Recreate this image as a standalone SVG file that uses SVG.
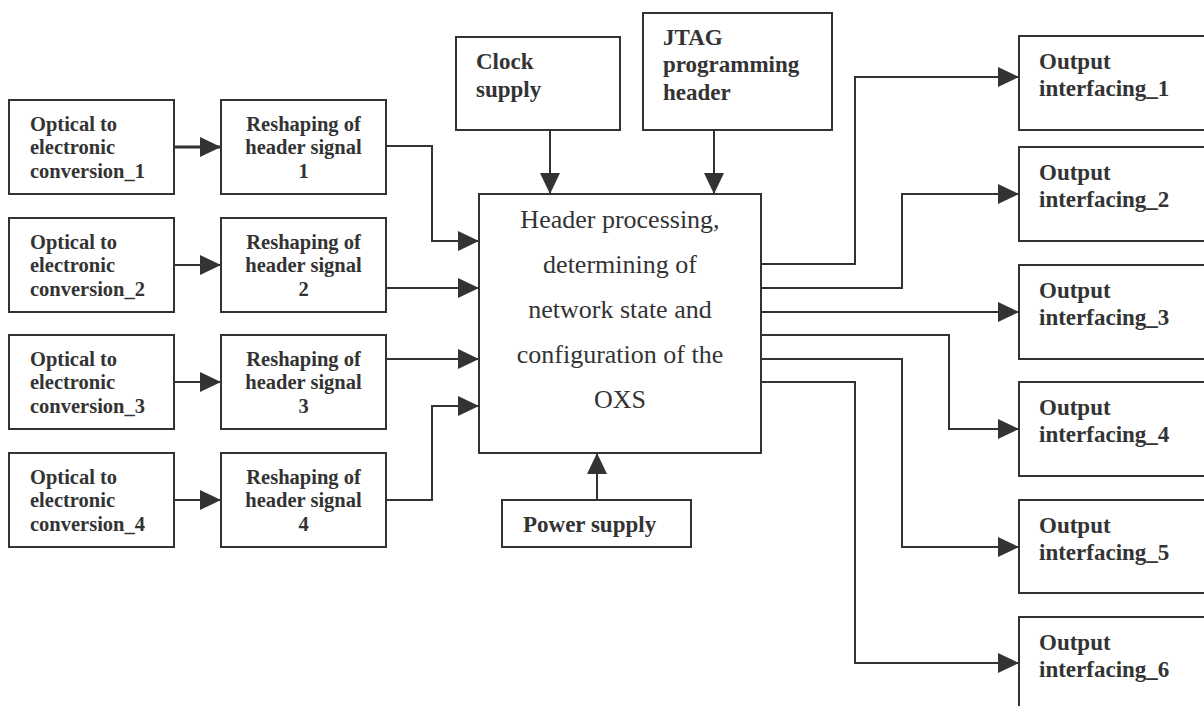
<svg xmlns="http://www.w3.org/2000/svg" width="1204" height="706" viewBox="0 0 1204 706">
<style>
.box{fill:#fff;stroke:#333;stroke-width:2}
.lbl{font-family:"Liberation Serif","Times New Roman",serif;font-weight:bold;fill:#333}
.s20{font-size:20.5px}
.s23{font-size:23px}
.main{font-family:"Liberation Serif","Times New Roman",serif;font-size:26px;fill:#333;text-anchor:middle}
.mid{text-anchor:middle}
.con{fill:none;stroke:#333;stroke-width:2;marker-end:url(#ah)}
</style>
<defs>
<marker id="ah" markerUnits="userSpaceOnUse" markerWidth="22" markerHeight="22" refX="21" refY="10" orient="auto">
<path d="M0,0 L21,10 L0,20 z" fill="#333"/>
</marker>
</defs>
<rect width="1204" height="706" fill="#fff"/>

<g id="connectors">
<path class="con" d="M174,147 H221" style="stroke-width:3"/>
<path class="con" d="M174,265 H221"/>
<path class="con" d="M174,382 H221"/>
<path class="con" d="M174,500 H221"/>
<path class="con" d="M386,146 H432 V241 H479"/>
<path class="con" d="M386,288 H479"/>
<path class="con" d="M386,359 H479"/>
<path class="con" d="M386,500 H432 V406 H479"/>
<path class="con" d="M550,124 V194"/>
<path class="con" d="M714,124 V194"/>
<path class="con" d="M597,500 V453"/>
<path class="con" d="M761,264 H855 V77 H1019"/>
<path class="con" d="M761,288 H902 V194 H1019"/>
<path class="con" d="M761,312 H1019"/>
<path class="con" d="M761,335 H949 V429 H1019"/>
<path class="con" d="M761,359 H902 V547 H1019"/>
<path class="con" d="M761,382 H855 V663 H1019"/>
</g>

<g id="oe1"><rect class="box" x="9" y="100" width="165" height="94"/>
<text class="lbl s20" x="30"><tspan x="30" y="130.5">Optical to</tspan><tspan x="30" y="154.3">electronic</tspan><tspan x="30" y="178.3">conversion_1</tspan></text></g>
<g id="oe2"><rect class="box" x="9" y="218" width="165" height="94"/>
<text class="lbl s20" x="30"><tspan x="30" y="248.5">Optical to</tspan><tspan x="30" y="272.3">electronic</tspan><tspan x="30" y="296.3">conversion_2</tspan></text></g>
<g id="oe3"><rect class="box" x="9" y="335" width="165" height="94"/>
<text class="lbl s20" x="30"><tspan x="30" y="365.5">Optical to</tspan><tspan x="30" y="389.3">electronic</tspan><tspan x="30" y="413.3">conversion_3</tspan></text></g>
<g id="oe4"><rect class="box" x="9" y="453" width="165" height="94"/>
<text class="lbl s20" x="30"><tspan x="30" y="483.5">Optical to</tspan><tspan x="30" y="507.3">electronic</tspan><tspan x="30" y="531.3">conversion_4</tspan></text></g>

<g id="rs1"><rect class="box" x="221" y="100" width="165" height="94"/>
<text class="lbl s20 mid"><tspan x="303.5" y="130.5">Reshaping of</tspan><tspan x="303.5" y="154.3">header signal</tspan><tspan x="303.5" y="178.3">1</tspan></text></g>
<g id="rs2"><rect class="box" x="221" y="218" width="165" height="94"/>
<text class="lbl s20 mid"><tspan x="303.5" y="248.5">Reshaping of</tspan><tspan x="303.5" y="272.3">header signal</tspan><tspan x="303.5" y="296.3">2</tspan></text></g>
<g id="rs3"><rect class="box" x="221" y="335" width="165" height="94"/>
<text class="lbl s20 mid"><tspan x="303.5" y="365.5">Reshaping of</tspan><tspan x="303.5" y="389.3">header signal</tspan><tspan x="303.5" y="413.3">3</tspan></text></g>
<g id="rs4"><rect class="box" x="221" y="453" width="165" height="94"/>
<text class="lbl s20 mid"><tspan x="303.5" y="483.5">Reshaping of</tspan><tspan x="303.5" y="507.3">header signal</tspan><tspan x="303.5" y="531.3">4</tspan></text></g>

<g id="clock"><rect class="box" x="456" y="37" width="164" height="93"/>
<text class="lbl s23"><tspan x="476" y="69">Clock</tspan><tspan x="476" y="96.5">supply</tspan></text></g>

<g id="jtag"><rect class="box" x="643" y="13" width="189" height="117"/>
<text class="lbl s23"><tspan x="663" y="45">JTAG</tspan><tspan x="663" y="72.3">programming</tspan><tspan x="663" y="99.5">header</tspan></text></g>

<g id="main"><rect class="box" x="479" y="194" width="282" height="259"/>
<text class="main"><tspan x="620" y="228.3">Header processing,</tspan><tspan x="620" y="273.3">determining of</tspan><tspan x="620" y="318">network state and</tspan><tspan x="620" y="363.3">configuration of the</tspan><tspan x="620" y="408.3">OXS</tspan></text></g>

<g id="power"><rect class="box" x="502" y="500" width="189" height="47"/>
<text class="lbl s23" x="523" y="531.7">Power supply</text></g>

<g id="out1"><rect class="box" x="1019" y="36" width="200" height="94"/>
<text class="lbl s23"><tspan x="1039" y="69">Output</tspan><tspan x="1039" y="96">interfacing_1</tspan></text></g>
<g id="out2"><rect class="box" x="1019" y="147" width="200" height="94"/>
<text class="lbl s23"><tspan x="1039" y="180">Output</tspan><tspan x="1039" y="207">interfacing_2</tspan></text></g>
<g id="out3"><rect class="box" x="1019" y="265" width="200" height="94"/>
<text class="lbl s23"><tspan x="1039" y="298">Output</tspan><tspan x="1039" y="325">interfacing_3</tspan></text></g>
<g id="out4"><rect class="box" x="1019" y="382" width="200" height="94"/>
<text class="lbl s23"><tspan x="1039" y="415">Output</tspan><tspan x="1039" y="442">interfacing_4</tspan></text></g>
<g id="out5"><rect class="box" x="1019" y="500" width="200" height="93"/>
<text class="lbl s23"><tspan x="1039" y="533">Output</tspan><tspan x="1039" y="560">interfacing_5</tspan></text></g>
<g id="out6"><rect class="box" x="1019" y="617" width="200" height="100"/>
<text class="lbl s23"><tspan x="1039" y="650">Output</tspan><tspan x="1039" y="677">interfacing_6</tspan></text></g>
</svg>
